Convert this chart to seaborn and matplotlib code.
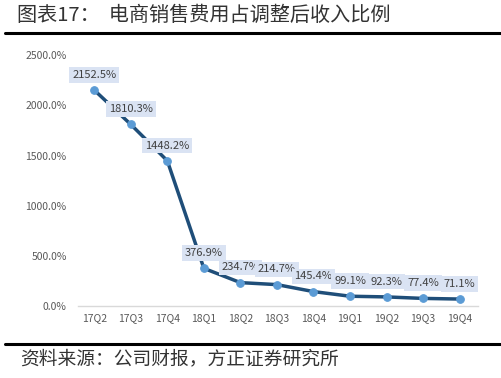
import matplotlib.pyplot as plt
import seaborn as sns
import pandas as pd
from matplotlib.lines import Line2D

# data
quarters = ['17Q2', '17Q3', '17Q4', '18Q1', '18Q2', '18Q3', '18Q4', '19Q1', '19Q2', '19Q3', '19Q4']
ratio = [2152.5, 1810.3, 1448.2, 376.9, 234.7, 214.7, 145.4, 99.1, 92.3, 77.4, 71.1]
yticks = [0, 500, 1000, 1500, 2000, 2500]

title = '图表17：  电商销售费用占调整后收入比例'
source = '资料来源：公司财报，方正证券研究所'

df = pd.DataFrame({'quarter': quarters, 'ratio': ratio})

sns.set_style('white')
plt.rcParams['font.family'] = ['Noto Sans CJK SC', 'DejaVu Sans']

fig = plt.figure(figsize=(5.02, 3.78), dpi=100)
ax = fig.add_axes([0.155, 0.19, 0.797, 0.664])

sns.lineplot(data=df, x='quarter', y='ratio', ax=ax, color='#1F4E79', linewidth=2.5,
             marker='o', markersize=5.5, markerfacecolor='#5B9BD5', markeredgecolor='#5B9BD5',
             sort=False)

# data labels in light boxes
for i, v in enumerate(ratio):
    ax.annotate(f'{v:.1f}%', (i, v), xytext=(0, 11), textcoords='offset points',
                ha='center', va='center', fontsize=8, color='#404040',
                bbox=dict(boxstyle='square,pad=0.25', facecolor='#DAE3F3', edgecolor='none'))

ax.set_ylim(0, 2500)
ax.set_xlim(-0.45, 10.5)
ax.set_yticks(yticks)
ax.set_yticklabels([f'{t:.1f}%' for t in yticks])
ax.tick_params(axis='both', labelsize=7.5, colors='#595959', length=0)
ax.tick_params(axis='x', pad=5)
ax.tick_params(axis='y', pad=8)
ax.set_xlabel('')
ax.set_ylabel('')

for s in ['top', 'right', 'left']:
    ax.spines[s].set_visible(False)
ax.spines['bottom'].set_color('#D9D9D9')
ax.spines['bottom'].set_linewidth(1)

# title, rules and source
fig.text(0.034, 0.96, title, fontsize=14.5, color='#333333', va='center', ha='left')
fig.add_artist(Line2D([0.01, 1.0], [0.912, 0.912], color='black', linewidth=2.2))
fig.add_artist(Line2D([0.01, 1.0], [0.09, 0.09], color='black', linewidth=2.2))
fig.text(0.04, 0.052, source, fontsize=13.5, color='#333333', va='center', ha='left', style='italic')

plt.savefig('out.png', dpi=100)
